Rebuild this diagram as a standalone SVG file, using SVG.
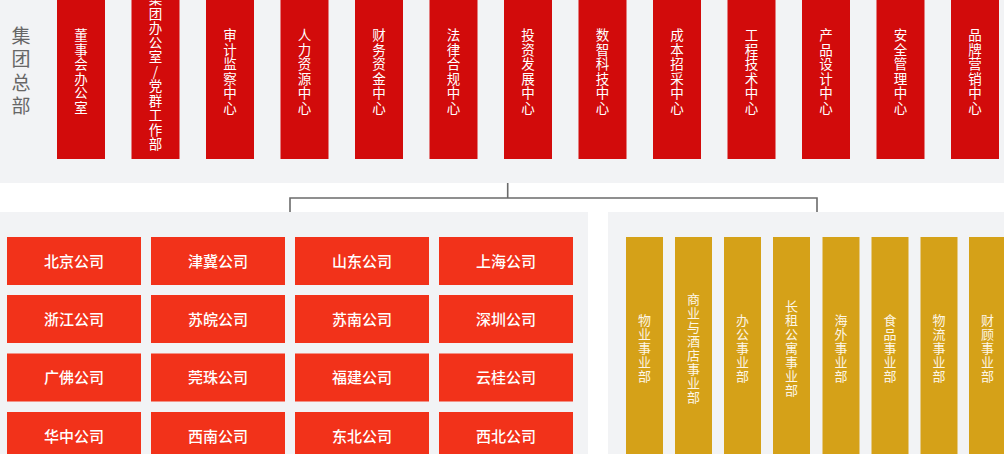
<svg xmlns="http://www.w3.org/2000/svg" width="1004" height="454" viewBox="0 0 1004 454">
<style>
.panel{fill:#f2f3f5}
.hq{fill:#d20b0b}
.co{fill:#f2321a}
.bu{fill:#d5a118}
.vt{font-family:"Noto Sans CJK SC","Noto Sans",sans-serif;font-size:13.5px;letter-spacing:1px;fill:#ffffff;text-anchor:middle;writing-mode:vertical-rl;text-orientation:upright}
.bt{font-family:"Noto Sans CJK SC","Noto Sans",sans-serif;font-size:13px;letter-spacing:1px;fill:#fdf6e6;text-anchor:middle;writing-mode:vertical-rl;text-orientation:upright}
.ct{font-family:"Noto Sans CJK SC","Noto Sans",sans-serif;font-size:15px;fill:#ffffff;text-anchor:middle;font-weight:500}
.lbl{font-family:"Noto Sans CJK SC","Noto Sans",sans-serif;font-size:19px;letter-spacing:4.5px;fill:#666666;text-anchor:middle;writing-mode:vertical-rl;text-orientation:upright}
.conn{fill:none;stroke:#6b6b6b;stroke-width:1.6}
</style>
<rect width="1004" height="454" fill="#ffffff"/>
<rect class="panel" x="0" y="0" width="1004" height="183"/>
<rect class="panel" x="0" y="212" width="588" height="242"/>
<rect class="panel" x="608" y="212" width="396" height="242"/>

<g id="hq-label"><text class="lbl" x="21" y="73">集团总部</text></g>

<g id="connectors">
<path class="conn" d="M507.7 183 V198 M290 212 V198 H817 V212"/>
</g>

<g id="hq1"><rect class="hq" x="57" y="-10" width="48" height="169"/><text class="vt" x="81" y="72">董事会办公室</text></g>
<g id="hq2"><rect class="hq" x="131.5" y="-10" width="48" height="169"/><text class="vt" x="155.5" y="72">集团办公室/党群工作部</text></g>
<g id="hq3"><rect class="hq" x="206" y="-10" width="48" height="169"/><text class="vt" x="230" y="72">审计监察中心</text></g>
<g id="hq4"><rect class="hq" x="280.5" y="-10" width="48" height="169"/><text class="vt" x="304.5" y="72">人力资源中心</text></g>
<g id="hq5"><rect class="hq" x="355" y="-10" width="48" height="169"/><text class="vt" x="379" y="72">财务资金中心</text></g>
<g id="hq6"><rect class="hq" x="429.5" y="-10" width="48" height="169"/><text class="vt" x="453.5" y="72">法律合规中心</text></g>
<g id="hq7"><rect class="hq" x="504" y="-10" width="48" height="169"/><text class="vt" x="528" y="72">投资发展中心</text></g>
<g id="hq8"><rect class="hq" x="578.5" y="-10" width="48" height="169"/><text class="vt" x="602.5" y="72">数智科技中心</text></g>
<g id="hq9"><rect class="hq" x="653" y="-10" width="48" height="169"/><text class="vt" x="677" y="72">成本招采中心</text></g>
<g id="hq10"><rect class="hq" x="727.5" y="-10" width="48" height="169"/><text class="vt" x="751.5" y="72">工程技术中心</text></g>
<g id="hq11"><rect class="hq" x="802" y="-10" width="48" height="169"/><text class="vt" x="826" y="72">产品设计中心</text></g>
<g id="hq12"><rect class="hq" x="876.5" y="-10" width="48" height="169"/><text class="vt" x="900.5" y="72">安全管理中心</text></g>
<g id="hq13"><rect class="hq" x="951" y="-10" width="48" height="169"/><text class="vt" x="975" y="72">品牌营销中心</text></g>

<g id="co-beijing"><rect class="co" x="7" y="237" width="134" height="48"/><text class="ct" x="74" y="266.5">北京公司</text></g>
<g id="co-jinji"><rect class="co" x="151" y="237" width="134" height="48"/><text class="ct" x="218" y="266.5">津冀公司</text></g>
<g id="co-shandong"><rect class="co" x="295" y="237" width="134" height="48"/><text class="ct" x="362" y="266.5">山东公司</text></g>
<g id="co-shanghai"><rect class="co" x="439" y="237" width="134" height="48"/><text class="ct" x="506" y="266.5">上海公司</text></g>
<g id="co-zhejiang"><rect class="co" x="7" y="295" width="134" height="48"/><text class="ct" x="74" y="324.5">浙江公司</text></g>
<g id="co-suwan"><rect class="co" x="151" y="295" width="134" height="48"/><text class="ct" x="218" y="324.5">苏皖公司</text></g>
<g id="co-sunan"><rect class="co" x="295" y="295" width="134" height="48"/><text class="ct" x="362" y="324.5">苏南公司</text></g>
<g id="co-shenzhen"><rect class="co" x="439" y="295" width="134" height="48"/><text class="ct" x="506" y="324.5">深圳公司</text></g>
<g id="co-guangfo"><rect class="co" x="7" y="353.5" width="134" height="48"/><text class="ct" x="74" y="383">广佛公司</text></g>
<g id="co-guanzhu"><rect class="co" x="151" y="353.5" width="134" height="48"/><text class="ct" x="218" y="383">莞珠公司</text></g>
<g id="co-fujian"><rect class="co" x="295" y="353.5" width="134" height="48"/><text class="ct" x="362" y="383">福建公司</text></g>
<g id="co-yungui"><rect class="co" x="439" y="353.5" width="134" height="48"/><text class="ct" x="506" y="383">云桂公司</text></g>
<g id="co-huazhong"><rect class="co" x="7" y="412" width="134" height="48"/><text class="ct" x="74" y="441.5">华中公司</text></g>
<g id="co-xinan"><rect class="co" x="151" y="412" width="134" height="48"/><text class="ct" x="218" y="441.5">西南公司</text></g>
<g id="co-dongbei"><rect class="co" x="295" y="412" width="134" height="48"/><text class="ct" x="362" y="441.5">东北公司</text></g>
<g id="co-xibei"><rect class="co" x="439" y="412" width="134" height="48"/><text class="ct" x="506" y="441.5">西北公司</text></g>

<g id="bu1"><rect class="bu" x="626" y="237" width="37" height="230"/><text class="bt" x="644.5" y="348.5">物业事业部</text></g>
<g id="bu2"><rect class="bu" x="675" y="237" width="37" height="230"/><text class="bt" x="693.5" y="348.5">商业与酒店事业部</text></g>
<g id="bu3"><rect class="bu" x="724" y="237" width="37" height="230"/><text class="bt" x="742.5" y="348.5">办公事业部</text></g>
<g id="bu4"><rect class="bu" x="773" y="237" width="37" height="230"/><text class="bt" x="791.5" y="348.5">长租公寓事业部</text></g>
<g id="bu5"><rect class="bu" x="822.5" y="237" width="37" height="230"/><text class="bt" x="841" y="348.5">海外事业部</text></g>
<g id="bu6"><rect class="bu" x="871.5" y="237" width="37" height="230"/><text class="bt" x="890" y="348.5">食品事业部</text></g>
<g id="bu7"><rect class="bu" x="920.5" y="237" width="37" height="230"/><text class="bt" x="939" y="348.5">物流事业部</text></g>
<g id="bu8"><rect class="bu" x="969" y="237" width="37" height="230"/><text class="bt" x="987.5" y="348.5">财顾事业部</text></g>
</svg>
